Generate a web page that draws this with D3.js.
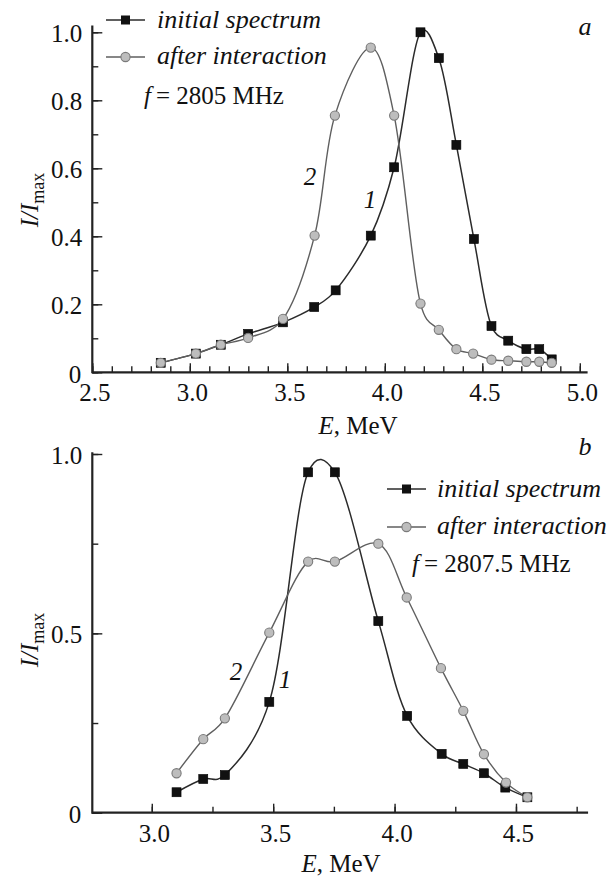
<!DOCTYPE html>
<html>
<head>
<meta charset="utf-8">
<script src="https://cdn.jsdelivr.net/npm/d3@7"></script>
<style>
  html, body { margin: 0; padding: 0; background: #fff; }
  svg { display: block; }
</style>
</head>
<body>
<svg id="chart" width="612" height="879"></svg>
<script>
// ---------- data ----------
// Panel a: f = 2805 MHz
const aE_init  = [2.851, 3.031, 3.159, 3.299, 3.478, 3.638, 3.748, 3.928, 4.048, 4.183, 4.277, 4.367, 4.457, 4.547, 4.633, 4.726, 4.792, 4.856];
const aI_init  = [0.028, 0.055, 0.081, 0.113, 0.147, 0.192, 0.241, 0.402, 0.603, 1.000, 0.924, 0.669, 0.392, 0.136, 0.093, 0.068, 0.068, 0.038];
const aE_after = [2.851, 3.031, 3.159, 3.299, 3.478, 3.640, 3.744, 3.928, 4.048, 4.183, 4.277, 4.367, 4.453, 4.547, 4.633, 4.726, 4.792, 4.856];
const aI_after = [0.028, 0.055, 0.081, 0.101, 0.157, 0.402, 0.755, 0.955, 0.755, 0.202, 0.125, 0.068, 0.055, 0.037, 0.034, 0.031, 0.031, 0.028];
// Panel b: f = 2807.5 MHz
const bE_init  = [3.102, 3.212, 3.301, 3.484, 3.644, 3.754, 3.933, 4.052, 4.194, 4.283, 4.368, 4.456, 4.547];
const bI_init  = [0.057, 0.094, 0.105, 0.309, 0.949, 0.949, 0.534, 0.270, 0.164, 0.136, 0.110, 0.070, 0.043];
const bE_after = [3.102, 3.212, 3.301, 3.484, 3.644, 3.754, 3.933, 4.050, 4.191, 4.283, 4.368, 4.459, 4.547];
const bI_after = [0.110, 0.205, 0.263, 0.502, 0.700, 0.700, 0.750, 0.600, 0.403, 0.284, 0.163, 0.084, 0.043];

const seriesNames = ["initial spectrum", "after interaction"];
const freqA = "2805 MHz";
const freqB = "2807.5 MHz";

// tick definitions
const aXMajor = [2.5, 3.0, 3.5, 4.0, 4.5, 5.0];
const aXMinor = d3.range(25, 51).map(d => d / 10);
const aYMajor = [0, 0.2, 0.4, 0.6, 0.8, 1.0];
const aYMinor = d3.range(0, 11).map(d => d / 10);
const bXMajor = [3.0, 3.5, 4.0, 4.5];
const bXMinor = [3.0, 3.25, 3.5, 3.75, 4.0, 4.25, 4.5, 4.75];
const bYMajor = [0, 0.5, 1.0];
const bYMinor = [0, 0.25, 0.5, 0.75, 1.0];

const svg = d3.select("#chart");
const FONT = '"Liberation Serif", LiberationSerif, "Tinos", "Noto Serif", "DejaVu Serif", "FreeSerif", "Nimbus Roman", "Nimbus Roman No9 L", "Times New Roman", Times, serif';
const FS = 25;
const INIT_LINE = "#2b2b2b", AFTER_LINE = "#5f5f5f";
const SQ_FILL = "#111", CIRC_FILL = "#bdbdbd", CIRC_STROKE = "#7a7a7a";

function yFmt(d) { return d === 0 ? "0" : d.toFixed(1); }

function panel(cfg) {
  const g = svg.append("g").attr("font-family", FONT).attr("fill", "#111");
  const x = d3.scaleLinear().domain(cfg.xDomain).range(cfg.xRange);
  const y = d3.scaleLinear().domain([0, 1]).range(cfg.yRange);

  // minor ticks
  g.append("g").attr("transform", `translate(0,${y(0)})`)
    .call(d3.axisBottom(x).tickValues(cfg.xMinor).tickSize(-6).tickFormat(""))
    .call(s => s.select(".domain").remove())
    .call(s => s.selectAll("line").attr("stroke", "#222").attr("stroke-width", 1.4));
  g.append("g").attr("transform", `translate(${x(cfg.xDomain[0])},0)`)
    .call(d3.axisLeft(y).tickValues(cfg.yMinor).tickSize(-6).tickFormat(""))
    .call(s => s.select(".domain").remove())
    .call(s => s.selectAll("line").attr("stroke", "#222").attr("stroke-width", 1.4));

  // major ticks + labels
  const xa = g.append("g").attr("transform", `translate(0,${y(0)})`)
    .call(d3.axisBottom(x).tickValues(cfg.xMajor).tickSize(-9).tickFormat(d3.format(".1f")))
    .call(s => s.select(".domain").remove())
    .attr("font-family", FONT).attr("font-size", FS);
  xa.selectAll("line").attr("stroke", "#222").attr("stroke-width", 1.4);
  xa.selectAll("text").attr("y", 29).attr("dy", 0).attr("dx", 2).attr("fill", "#111");

  const ya = g.append("g").attr("transform", `translate(${x(cfg.xDomain[0])},0)`)
    .call(d3.axisLeft(y).tickValues(cfg.yMajor).tickSize(-10).tickFormat(yFmt))
    .call(s => s.select(".domain").remove())
    .attr("font-family", FONT).attr("font-size", FS);
  ya.selectAll("line").attr("stroke", "#222").attr("stroke-width", 1.4);
  ya.selectAll("text").attr("x", -10).attr("dy", "0.36em").attr("fill", "#111");
  ya.selectAll(".tick").filter(d => d === 0).select("text").attr("dy", "0.4em").attr("x", -11);

  // axis lines
  g.append("line").attr("x1", x(cfg.xDomain[0])).attr("x2", x(cfg.xEnd))
    .attr("y1", y(0)).attr("y2", y(0)).attr("stroke", "#222").attr("stroke-width", 2.2);
  g.append("line").attr("x1", x(cfg.xDomain[0])).attr("x2", x(cfg.xDomain[0]))
    .attr("y1", y(0) + 1).attr("y2", y(cfg.yTop)).attr("stroke", "#222").attr("stroke-width", 2.2);

  // curves
  const line = d3.line().x(d => x(d[0])).y(d => y(d[1])).curve(d3.curveCatmullRom.alpha(0.2));
  const init = cfg.eInit.map((e, i) => [e, cfg.iInit[i]]);
  const after = cfg.eAfter.map((e, i) => [e, cfg.iAfter[i]]);
  g.append("path").attr("d", line(init)).attr("fill", "none").attr("stroke", INIT_LINE).attr("stroke-width", 1.5);
  g.append("path").attr("d", line(after)).attr("fill", "none").attr("stroke", AFTER_LINE).attr("stroke-width", 1.4);

  // markers
  const SQ = 9;
  g.selectAll(".sq").data(init).join("rect")
    .attr("x", d => x(d[0]) - SQ / 2).attr("y", d => y(d[1]) - SQ / 2)
    .attr("width", SQ).attr("height", SQ).attr("fill", SQ_FILL).attr("stroke", "#000").attr("stroke-width", 0.6);
  g.selectAll(".ci").data(after).join("circle")
    .attr("cx", d => x(d[0])).attr("cy", d => y(d[1])).attr("r", 4.6)
    .attr("fill", CIRC_FILL).attr("stroke", CIRC_STROKE).attr("stroke-width", 1.1);

  // legend
  const L = cfg.legend;
  [0, 1].forEach(k => {
    const yy = L.y[k];
    g.append("line").attr("x1", L.x1).attr("x2", L.x2).attr("y1", yy).attr("y2", yy)
      .attr("stroke", k === 0 ? INIT_LINE : AFTER_LINE).attr("stroke-width", 1.5);
    const cx = (L.x1 + L.x2) / 2;
    if (k === 0) {
      g.append("rect").attr("x", cx - 4.5).attr("y", yy - 4.5).attr("width", 9).attr("height", 9).attr("fill", SQ_FILL);
    } else {
      g.append("circle").attr("cx", cx).attr("cy", yy).attr("r", 4.6)
        .attr("fill", CIRC_FILL).attr("stroke", CIRC_STROKE).attr("stroke-width", 1.1);
    }
    g.append("text").attr("x", L.tx).attr("y", L.base[k]).attr("font-size", 26).attr("font-style", "italic")
      .text(seriesNames[k]);
  });
  const ft = g.append("text").attr("x", L.fx).attr("y", L.fbase).attr("font-size", FS);
  ft.append("tspan").attr("font-style", "italic").text("f");
  ft.append("tspan").text("\u2009= " + cfg.freq);

  // panel letter
  g.append("text").attr("x", 585).attr("y", cfg.letterBase).attr("text-anchor", "middle")
    .attr("font-size", 26).attr("font-style", "italic").text(cfg.letter);

  // curve numbers
  cfg.nums.forEach(n => {
    g.append("text").attr("x", n.x).attr("y", n.y + 8).attr("text-anchor", "middle")
      .attr("font-size", FS).attr("font-style", "italic").text(n.t);
  });

  // axis titles
  const xt = g.append("text").attr("x", cfg.xTitle[0]).attr("y", cfg.xTitle[1]).attr("text-anchor", "middle")
    .attr("font-size", FS);
  xt.append("tspan").attr("font-style", "italic").text("E");
  xt.append("tspan").text(", MeV");

  const yt = g.append("text").attr("transform", `translate(${cfg.yTitle[0]},${cfg.yTitle[1]}) rotate(-90)`)
    .attr("text-anchor", "middle").attr("font-size", FS);
  yt.append("tspan").attr("font-style", "italic").text("I/I");
  yt.append("tspan").attr("dy", 6).attr("font-size", 18).text("max");
}

panel({
  xDomain: [2.5, 5.0], xRange: [92.3, 579.8], xEnd: 5.04,
  yRange: [372.3, 32.3], yTop: 1.02,
  xMajor: aXMajor, xMinor: aXMinor, yMajor: aYMajor, yMinor: aYMinor,
  eInit: aE_init, iInit: aI_init, eAfter: aE_after, iAfter: aI_after,
  legend: { x1: 106, x2: 145, y: [20, 57], tx: 157, base: [28, 64], fx: 144, fbase: 104 },
  freq: freqA, letter: "a", letterBase: 35,
  nums: [{ t: "2", x: 310, y: 177 }, { t: "1", x: 370, y: 200 }],
  xTitle: [358, 434], yTitle: [38, 200]
});

panel({
  xDomain: [2.755, 4.8], xRange: [92.3, 588.8], xEnd: 4.797,
  yRange: [812.7, 454], yTop: 1.005,
  xMajor: bXMajor, xMinor: bXMinor, yMajor: bYMajor, yMinor: bYMinor,
  eInit: bE_init, iInit: bI_init, eAfter: bE_after, iAfter: bI_after,
  legend: { x1: 387, x2: 426, y: [489, 527], tx: 437, base: [497, 534], fx: 412, fbase: 572 },
  freq: freqB, letter: "b", letterBase: 455,
  nums: [{ t: "2", x: 236, y: 672 }, { t: "1", x: 285, y: 680 }],
  xTitle: [341, 872], yTitle: [38, 640]
});
</script>
</body>
</html>
